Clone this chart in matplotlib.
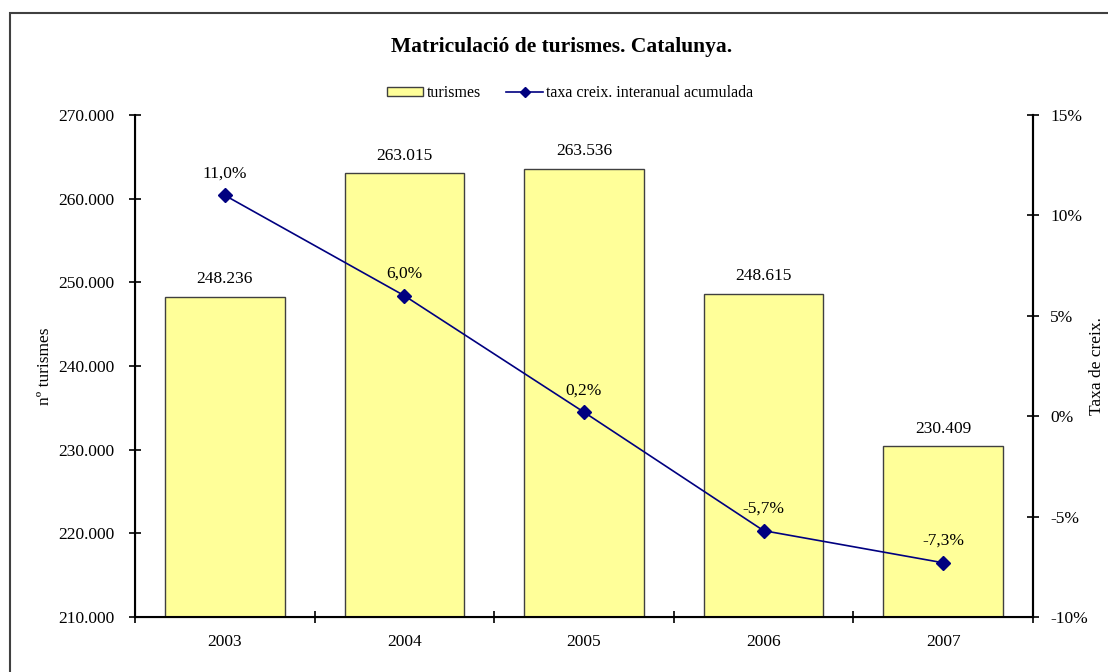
import matplotlib
matplotlib.use("Agg")
import matplotlib.pyplot as plt
import numpy as np
from matplotlib.patches import Rectangle
from matplotlib.lines import Line2D

plt.rcParams['font.family'] = ['Liberation Serif', 'DejaVu Serif']

years = ['2003', '2004', '2005', '2006', '2007']
turismes = [248236, 263015, 263536, 248615, 230409]
taxa = [11.0, 6.0, 0.2, -5.7, -7.3]

bar_color = '#FFFF99'
line_color = '#000080'
fs = 12.5


def fmt_miles(v):
    return f'{v:,.0f}'.replace(',', '.')


def fmt_pct(v):
    return f'{v:.1f}%'.replace('.', ',')


fig = plt.figure(figsize=(11.08, 6.72), dpi=100)
ax = fig.add_axes([135 / 1108, 55 / 672, 898 / 1108, 502 / 672])

x = np.arange(len(years))
ax.bar(x, turismes, width=0.667, color=bar_color, edgecolor='#404040', linewidth=1.0, zorder=2)
for xi, v in zip(x, turismes):
    ax.annotate(fmt_miles(v), (xi, v), xytext=(0, 7), textcoords='offset points',
                ha='center', va='bottom', fontsize=fs)

ax.set_xlim(-0.5, len(years) - 0.5)
ax.set_ylim(210000, 270000)
ax.set_yticks(np.arange(210000, 270001, 10000))
ax.set_yticklabels([fmt_miles(v) for v in np.arange(210000, 270001, 10000)])
ax.set_xticks(x)
ax.set_xticklabels(years)
ax.set_xticks(np.arange(-0.5, len(years), 1.0), minor=True)
ax.tick_params(axis='x', which='major', length=0, pad=12, labelsize=fs)
ax.tick_params(axis='x', which='minor', length=9, direction='inout', width=1.2)
ax.tick_params(axis='y', length=9, direction='inout', width=1.2, labelsize=fs, pad=10)
ax.spines['top'].set_visible(False)
for s in ['left', 'bottom', 'right']:
    ax.spines[s].set_linewidth(1.5)

ax2 = ax.twinx()
ax2.plot(x, taxa, color=line_color, linewidth=1.2, marker='D', markersize=7, zorder=5)
for xi, v in zip(x, taxa):
    ax2.annotate(fmt_pct(v), (xi, v), xytext=(0, 10), textcoords='offset points',
                 ha='center', va='bottom', fontsize=fs)
ax2.set_ylim(-10, 15)
ax2.set_yticks(np.arange(-10, 16, 5))
ax2.set_yticklabels([f'{v}%' for v in np.arange(-10, 16, 5)])
ax2.tick_params(axis='y', length=9, direction='inout', width=1.2, labelsize=fs, pad=8)
ax2.spines['top'].set_visible(False)
ax2.spines['right'].set_linewidth(1.5)

# axis titles placed by hand, as in the original
fig.text(45 / 1108, 1 - 366 / 672, 'nº turismes', rotation=90, ha='center', va='center', fontsize=fs)
fig.text(1097 / 1108, 1 - 366 / 672, 'Taxa de creix.', rotation=90, ha='center', va='center', fontsize=fs)

fig.text(562 / 1108, 1 - 47 / 672, 'Matriculació de turismes. Catalunya.', ha='center', va='center',
         fontsize=15.5, fontweight='bold')

handles = [Rectangle((0, 0), 1, 1, facecolor=bar_color, edgecolor='#404040', linewidth=1.0),
           Line2D([0], [0], color=line_color, linewidth=1.2, marker='D', markersize=5)]
fig.legend(handles, ['turismes', 'taxa creix. interanual acumulada'], loc='center',
           bbox_to_anchor=(570 / 1108, 1 - 93 / 672), ncol=2, frameon=False, fontsize=11.5,
           handlelength=2.3, handleheight=0.5, columnspacing=1.6, handletextpad=0.2)

fig.add_artist(Rectangle((10 / 1108, -0.1), 1.2, 1.1 - 13 / 672, transform=fig.transFigure,
                         fill=False, edgecolor='#404040', linewidth=1.5))

fig.savefig('out.png', dpi=100)
